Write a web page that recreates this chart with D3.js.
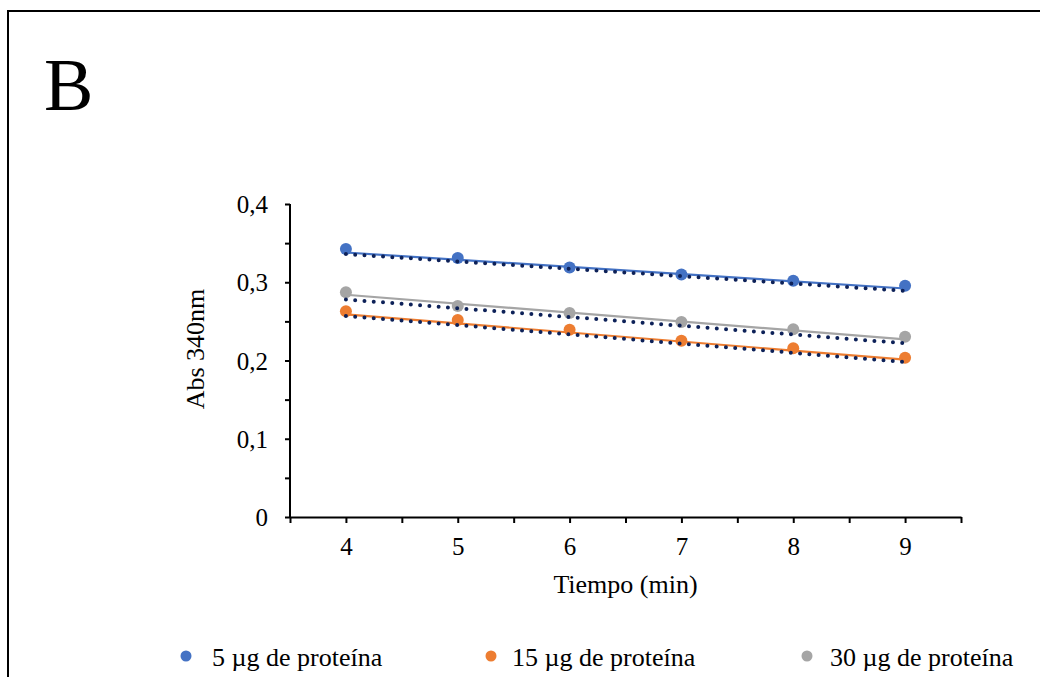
<!DOCTYPE html>
<html><head><meta charset="utf-8">
<script src="https://cdn.jsdelivr.net/npm/d3@7"></script>
<style>
body{margin:0;background:#fff;}
svg, svg text{font-family:"Liberation Serif","Times New Roman",serif !important;fill:#000;}
</style></head>
<body><svg id="c" width="1040" height="677" font-family="Liberation Serif"></svg>
<script>
const times = [4, 5, 6, 7, 8, 9];
const seriesNames = ["5 µg de proteína", "15 µg de proteína", "30 µg de proteína"];
const seriesColors = ["#4472c4", "#ed7d31", "#a5a5a5"];
const values5 = [0.3425, 0.331, 0.319, 0.310, 0.302, 0.2956];
const values15 = [0.263, 0.2518, 0.2394, 0.2253, 0.2156, 0.2036];
const values30 = [0.2871, 0.2696, 0.2607, 0.2492, 0.2399, 0.2304];
// trendline end values (at x=4 and x=9)
const trendX = [4, 9];
const solidTrend = [[0.338, 0.292], [0.259, 0.201], [0.284, 0.227]];
const dottedTrend = [[0.336, 0.289], [0.257, 0.198], [0.278, 0.222]];
const yTickValues = [0, 0.05, 0.1, 0.15, 0.2, 0.25, 0.3, 0.35, 0.4];
const xTickValues = [3.5, 4, 4.5, 5, 5.5, 6, 6.5, 7, 7.5, 8, 8.5, 9, 9.5];
const xLabelValues = [4, 5, 6, 7, 8, 9];
const panelLabel = "B";
const xTitle = "Tiempo (min)";
const yTitle = "Abs 340nm";

const series = [values5, values15, values30];
const FONT = '"Liberation Serif", "Times New Roman", serif';
const svg = d3.select("#c");

// frame
svg.append("rect").attr("x", 8).attr("y", 11).attr("width", 1040).attr("height", 700)
  .attr("fill", "none").attr("stroke", "#000").attr("stroke-width", 2);
svg.append("text").attr("x", 44).attr("y", 110).attr("font-size", 74).text(panelLabel);

const x = d3.scaleLinear().domain([3.5, 9.5]).range([290, 961]);
const y = d3.scaleLinear().domain([0, 0.4]).range([517, 204]);
const fmt = d => d3.format(".1f")(d).replace(".", ",");

// y axis
const yAx = svg.append("g").attr("transform", "translate(290,0)")
  .call(d3.axisLeft(y).tickValues(yTickValues).tickSize(5).tickSizeOuter(0)
    .tickFormat(d => (Math.round(d * 100) % 10 === 0) ? (d === 0 ? "0" : fmt(d)) : ""));
yAx.attr("font-family", FONT);
yAx.selectAll("path,line").attr("stroke", "#000").attr("stroke-width", 2);
yAx.selectAll("text").attr("font-size", 25).attr("x", -22).attr("dy", "0.34em")
  .attr("font-family", FONT);
yAx.select(".domain").attr("d", `M0,${y(0) + 1}V${y(0.4)}`);

// x axis
const xAx = svg.append("g").attr("transform", "translate(0,517)")
  .call(d3.axisBottom(x).tickValues(xTickValues).tickSize(6).tickSizeOuter(0)
    .tickFormat(d => xLabelValues.includes(d) ? d : ""));
xAx.attr("font-family", FONT);
xAx.selectAll("path,line").attr("stroke", "#000").attr("stroke-width", 2);
xAx.selectAll("text").attr("font-size", 25).attr("y", 20).attr("dy", "0.71em")
  .attr("font-family", FONT);

// titles
svg.append("text").attr("x", x(6.5)).attr("y", 593).attr("text-anchor", "middle")
  .attr("font-size", 26).attr("font-family", FONT).text(xTitle);
svg.append("text").attr("transform", `translate(204,349) rotate(-90)`)
  .attr("text-anchor", "middle").attr("font-size", 26).attr("font-family", FONT).text(yTitle);

const line = d3.line().x(d => x(d[0])).y(d => y(d[1]));

// solid trendlines
solidTrend.forEach((t, i) => {
  svg.append("path").datum(trendX.map((tx, j) => [tx, t[j]]))
    .attr("d", line).attr("fill", "none").attr("stroke", seriesColors[i]).attr("stroke-width", 2.2);
});

// points
series.forEach((vals, i) => {
  svg.append("g").selectAll("circle").data(vals).join("circle")
    .attr("cx", (d, j) => x(times[j])).attr("cy", d => y(d)).attr("r", 6)
    .attr("fill", seriesColors[i]);
});

// dotted trendlines
dottedTrend.forEach((t, i) => {
  svg.append("path").datum(trendX.map((tx, j) => [tx, t[j]]))
    .attr("d", line).attr("fill", "none").attr("stroke", "#0d2158")
    .attr("stroke-width", 4).attr("stroke-linecap", "round").attr("stroke-dasharray", "0 9.3");
});

// legend
const legX = [186, 491, 807];
const legTX = [212, 512, 830];
seriesNames.forEach((n, i) => {
  svg.append("circle").attr("cx", legX[i]).attr("cy", 656).attr("r", 5.5).attr("fill", seriesColors[i]);
  svg.append("text").attr("x", legTX[i]).attr("y", 666).attr("font-size", 26)
    .attr("font-family", FONT).text(n);
});
</script></body></html>
